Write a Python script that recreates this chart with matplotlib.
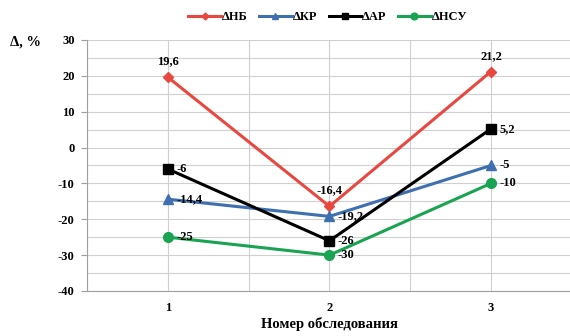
import numpy as np
import matplotlib
matplotlib.use("Agg")
from matplotlib import pyplot as plt
from matplotlib.ticker import MultipleLocator

# данные обследований
surveys = [1, 2, 3]
d_nb = [19.6, -16.4, 21.2]
d_kr = [-14.4, -19.2, -5]
d_ar = [-6, -26, 5.2]
d_nsu = [-25, -30, -10]

labels_nb = ["19,6", "-16,4", "21,2"]
labels_kr = ["-14,4", "-19,2", "-5"]
labels_ar = ["-6", "-26", "5,2"]
labels_nsu = ["-25", "-30", "-10"]

plt.rcParams['font.family'] = ['Liberation Serif', 'DejaVu Serif']
plt.rcParams['font.weight'] = 'bold'
plt.rcParams['axes.unicode_minus'] = False

fig = plt.figure(figsize=(5.7, 3.36), dpi=100)
ax = fig.add_axes([0.153, 0.134, 0.85, 0.747])

series = [
    (d_nb, labels_nb, '#e8483f', 'D', 5, "ΔНБ"),
    (d_kr, labels_kr, '#3e70b0', '^', 7, "ΔКР"),
    (d_ar, labels_ar, '#000000', 's', 7, "ΔАР"),
    (d_nsu, labels_nsu, '#1aa352', 'o', 7, "ΔНСУ"),
]
for vals, labs, col, mk, ms, name in series:
    ax.plot(surveys, vals, color=col, lw=2.2, marker=mk, ms=ms, label=name, zorder=3)

# подписи значений
for x, v, t in zip(surveys, d_nb, labels_nb):
    ax.annotate(t, (x, v), xytext=(0, 7), textcoords='offset points',
                ha='center', va='bottom', fontsize=9)
for vals, labs in [(d_kr, labels_kr), (d_ar, labels_ar), (d_nsu, labels_nsu)]:
    for x, v, t in zip(surveys, vals, labs):
        ax.annotate(t, (x, v), xytext=(6, 0), textcoords='offset points',
                    ha='left', va='center', fontsize=9)

ax.set_xlim(0.5, 3.5)
ax.set_ylim(-40, 30)
ax.set_xticks(surveys)
ax.xaxis.set_minor_locator(MultipleLocator(0.5))
ax.yaxis.set_major_locator(MultipleLocator(10))
ax.yaxis.set_minor_locator(MultipleLocator(5))
ax.grid(which='both', color='#d0d0d0', lw=0.8, zorder=0)
ax.tick_params(axis='both', which='both', length=0, labelsize=9, pad=8)
ax.tick_params(axis='y', which='major', length=4, color='#a0a0a0', pad=5)
for s in ['top', 'right']:
    ax.spines[s].set_visible(False)
for s in ['left', 'bottom']:
    ax.spines[s].set_color('#a0a0a0')

ax.set_xlabel("Номер обследования", fontsize=10.5, fontweight='bold', labelpad=2)
fig.text(0.018, 0.865, "Δ, %", fontsize=10.5, fontweight='bold')

fig.legend(loc='upper center', bbox_to_anchor=(0.575, 1.0), ncol=4, frameon=False,
           fontsize=9, handlelength=2.6, handletextpad=0.1, columnspacing=0.9,
           markerscale=0.7)

fig.savefig("out.png", dpi=100)
